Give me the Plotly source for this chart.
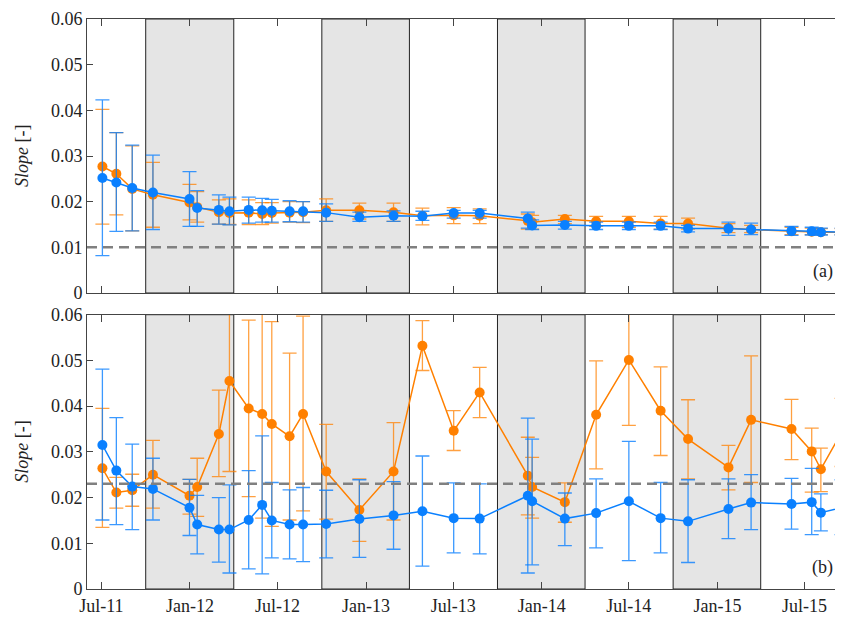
import plotly.graph_objects as go

dates = ["2011-07-03", "2011-08-01", "2011-09-03", "2011-10-16", "2011-12-31", "2012-01-16",
         "2012-03-01", "2012-03-23", "2012-05-02", "2012-05-30", "2012-06-19", "2012-07-26",
         "2012-08-23", "2012-10-10", "2012-12-18", "2013-02-27", "2013-04-28", "2013-07-02",
         "2013-08-25", "2013-12-03", "2013-12-12", "2014-02-18", "2014-04-24", "2014-07-01",
         "2014-09-05", "2014-11-01", "2015-01-24", "2015-03-12", "2015-06-04", "2015-07-16",
         "2015-08-04", "2015-09-16"]

# Panel (a)
a_orange = [0.0277, 0.0261, 0.0228, 0.0215, 0.0198, 0.0188, 0.0177, 0.0175, 0.0176, 0.0173, 0.0175, 0.0176,
            0.0177, 0.0181, 0.0181, 0.0177, 0.0169, 0.0170, 0.0169, 0.0158, 0.0155, 0.0162, 0.0157, 0.0157,
            0.0152, 0.0152, 0.0142, 0.0139, 0.0135, 0.0134, 0.0133, 0.0133]
a_orange_hi = [0.0402, 0.0351, 0.0322, 0.0286, 0.0238, 0.0222, 0.0204, 0.0206, 0.0204, 0.0198, 0.0198, 0.0200,
               0.0200, 0.0206, 0.0197, 0.0197, 0.0186, 0.0187, 0.0184, 0.0173, 0.0170, 0.0170, 0.0168, 0.0168,
               0.0168, 0.0164, 0.0152, 0.0148, 0.0144, 0.0142, 0.0141, 0.0141]
a_orange_lo = [0.0151, 0.0171, 0.0136, 0.0144, 0.0160, 0.0155, 0.0151, 0.0150, 0.0150, 0.0150, 0.0153, 0.0155,
               0.0154, 0.0157, 0.0162, 0.0157, 0.0149, 0.0152, 0.0152, 0.0140, 0.0140, 0.0152, 0.0146, 0.0144,
               0.0140, 0.0140, 0.0132, 0.0132, 0.0128, 0.0128, 0.0128, 0.0128]
a_blue = [0.0252, 0.0242, 0.0230, 0.0220, 0.0206, 0.0186, 0.0182, 0.0179, 0.0182, 0.0181, 0.0180, 0.0179,
          0.0179, 0.0176, 0.0166, 0.0169, 0.0168, 0.0175, 0.0175, 0.0163, 0.0148, 0.0149, 0.0147, 0.0147,
          0.0147, 0.0141, 0.0141, 0.0139, 0.0136, 0.0135, 0.0133, 0.0133]
a_blue_hi = [0.0423, 0.0351, 0.0324, 0.0302, 0.0266, 0.0224, 0.0215, 0.0210, 0.0210, 0.0207, 0.0205, 0.0202,
             0.0200, 0.0195, 0.0177, 0.0180, 0.0179, 0.0181, 0.0181, 0.0177, 0.0160, 0.0157, 0.0155, 0.0155,
             0.0155, 0.0148, 0.0155, 0.0153, 0.0146, 0.0144, 0.0142, 0.0142]
a_blue_lo = [0.0082, 0.0135, 0.0136, 0.0139, 0.0146, 0.0146, 0.0151, 0.0149, 0.0153, 0.0155, 0.0155, 0.0156,
             0.0155, 0.0157, 0.0157, 0.0157, 0.0159, 0.0164, 0.0164, 0.0142, 0.0139, 0.0140, 0.0139, 0.0139,
             0.0139, 0.0134, 0.0126, 0.0128, 0.0126, 0.0127, 0.0127, 0.0127]

# Panel (b)
b_orange = [0.0264, 0.0211, 0.0216, 0.0250, 0.0204, 0.0223, 0.0339, 0.0455, 0.0395, 0.0383, 0.0361, 0.0334,
            0.0383, 0.0257, 0.0173, 0.0257, 0.0532, 0.0346, 0.0430, 0.0248, 0.0223, 0.0190, 0.0381, 0.0501,
            0.0390, 0.0328, 0.0266, 0.0370, 0.0350, 0.0301, 0.0262, 0.0343]
b_orange_hi = [0.0395, 0.0244, 0.0251, 0.0325, 0.0240, 0.0286, 0.0435, 0.0650, 0.0588, 0.0650, 0.0585, 0.0516,
               0.0597, 0.0360, 0.0241, 0.0364, 0.0587, 0.0390, 0.0485, 0.0332, 0.0288, 0.0232, 0.0499, 0.0650,
               0.0486, 0.0414, 0.0314, 0.0510, 0.0415, 0.0352, 0.0308, 0.0417]
b_orange_lo = [0.0135, 0.0177, 0.0181, 0.0177, 0.0164, 0.0159, 0.0246, 0.0257, 0.0202, 0.0155, 0.0137, 0.0151,
               0.0171, 0.0153, 0.0104, 0.0151, 0.0478, 0.0303, 0.0375, 0.0162, 0.0155, 0.0146, 0.0263, 0.0358,
               0.0292, 0.0241, 0.0217, 0.0233, 0.0283, 0.0212, 0.0213, 0.0268]
b_blue = [0.0315, 0.0259, 0.0224, 0.0219, 0.0178, 0.0141, 0.0130, 0.0130, 0.0151, 0.0184, 0.0150, 0.0141,
          0.0141, 0.0142, 0.0153, 0.0161, 0.0170, 0.0155, 0.0154, 0.0204, 0.0192, 0.0154, 0.0166, 0.0192,
          0.0155, 0.0148, 0.0175, 0.0189, 0.0186, 0.0190, 0.0167, 0.0178]
b_blue_hi = [0.0481, 0.0375, 0.0317, 0.0286, 0.0240, 0.0205, 0.0200, 0.0228, 0.0259, 0.0335, 0.0233, 0.0217,
             0.0222, 0.0216, 0.0239, 0.0235, 0.0291, 0.0232, 0.0230, 0.0374, 0.0328, 0.0210, 0.0241, 0.0323,
             0.0233, 0.0239, 0.0241, 0.0250, 0.0242, 0.0264, 0.0208, 0.0239]
b_blue_lo = [0.0151, 0.0141, 0.0130, 0.0151, 0.0117, 0.0077, 0.0059, 0.0035, 0.0044, 0.0033, 0.0068, 0.0066,
             0.0060, 0.0068, 0.0069, 0.0087, 0.0050, 0.0079, 0.0077, 0.0035, 0.0053, 0.0095, 0.0090, 0.0062,
             0.0079, 0.0058, 0.0110, 0.0130, 0.0131, 0.0119, 0.0127, 0.0119]

thresholds = [0.010, 0.023]
winters = [("2011-10-01", "2012-04-01"), ("2012-10-01", "2013-04-01"),
           ("2013-10-01", "2014-04-01"), ("2014-10-01", "2015-04-01")]
tick_dates = ["2011-07-01", "2012-01-01", "2012-07-01", "2013-01-01", "2013-07-01",
              "2014-01-01", "2014-07-01", "2015-01-01", "2015-07-01"]
tick_text = ["Jul-11", "Jan-12", "Jul-12", "Jan-13", "Jul-13", "Jan-14", "Jul-14", "Jan-15", "Jul-15"]
y_ticks = [0, 0.01, 0.02, 0.03, 0.04, 0.05, 0.06]
y_text = ["0", "0.01", "0.02", "0.03", "0.04", "0.05", "0.06"]
panel_labels = ["(a)", "(b)"]

ORANGE = "#ff8000"
BLUE = "#0a80ff"
ORANGE_E = "rgba(255,128,0,0.75)"
BLUE_E = "rgba(10,128,255,0.8)"
FONT = "Times New Roman, Liberation Serif, serif"
TXT = "#222222"

fig = go.Figure()


def add_series(y, hi, lo, color, ecolor, xa, ya):
    fig.add_trace(go.Scatter(
        x=dates, y=y, mode="lines+markers", xaxis=xa, yaxis=ya,
        line=dict(color=color, width=1.5),
        marker=dict(color=color, size=10),
        error_y=dict(type="data", symmetric=False,
                     array=[h - v for h, v in zip(hi, y)],
                     arrayminus=[v - l for v, l in zip(y, lo)],
                     color=ecolor, thickness=1.3, width=7),
        showlegend=False, hoverinfo="skip"))


add_series(a_orange, a_orange_hi, a_orange_lo, ORANGE, ORANGE_E, "x", "y")
add_series(a_blue, a_blue_hi, a_blue_lo, BLUE, BLUE_E, "x", "y")
add_series(b_orange, b_orange_hi, b_orange_lo, ORANGE, ORANGE_E, "x2", "y2")
add_series(b_blue, b_blue_hi, b_blue_lo, BLUE, BLUE_E, "x2", "y2")

shapes = []
for xr, yr in [("x", "y"), ("x2", "y2")]:
    for s, e in winters:
        shapes.append(dict(type="rect", xref=xr, yref=yr + " domain", x0=s, x1=e, y0=0, y1=1,
                           fillcolor="#e5e5e5", line=dict(color="#222222", width=1), layer="below"))
for (xr, yr), t in zip([("x", "y"), ("x2", "y2")], thresholds):
    shapes.append(dict(type="line", xref=xr + " domain", yref=yr, x0=0, x1=1, y0=t, y1=t,
                       line=dict(color="#808080", width=2.5, dash="10px,6px"), layer="above"))

annotations = []
for yr, lab in zip(["y", "y2"], panel_labels):
    annotations.append(dict(text=lab, xref="paper", yref=yr + " domain", x=0.99, y=0.08,
                            showarrow=False, xanchor="right", yanchor="middle",
                            font=dict(family=FONT, size=18, color=TXT)))
    annotations.append(dict(text="<i>Slope</i> [-]", xref="paper", yref=yr + " domain", x=-0.086, y=0.5,
                            showarrow=False, textangle=-90, xanchor="center", yanchor="middle",
                            font=dict(family=FONT, size=18, color=TXT)))

xcommon = dict(type="date", range=["2011-06-01", "2015-09-19"], tickmode="array",
               tickvals=tick_dates, ticks="inside", ticklen=7, tickcolor="#444",
               showline=True, linecolor="#444", linewidth=1, mirror="ticks",
               showgrid=False, zeroline=False, automargin=False,
               tickfont=dict(family=FONT, size=18, color=TXT))
ycommon = dict(range=[0, 0.06], tickmode="array", tickvals=y_ticks, ticktext=y_text,
               ticks="inside", ticklen=6, tickcolor="#444", showline=True, linecolor="#444",
               linewidth=1, showgrid=False, zeroline=False, automargin=False,
               tickfont=dict(family=FONT, size=18, color=TXT))

# page body has an 8px margin, so the figure is 8px smaller and margins shifted
fig.update_layout(
    width=835, height=609,
    margin=dict(l=79, r=0, t=11, b=28, autoexpand=False),
    plot_bgcolor="white", paper_bgcolor="white",
    font=dict(family=FONT, color=TXT),
    xaxis=dict(**xcommon, anchor="y", ticktext=[""] * len(tick_dates), showticklabels=False),
    yaxis=dict(**ycommon, domain=[0.5193, 1.0], anchor="x"),
    xaxis2=dict(**xcommon, anchor="y2", ticktext=tick_text, matches="x"),
    yaxis2=dict(**ycommon, domain=[0.0, 0.4812], anchor="x2"),
    shapes=shapes, annotations=annotations,
)

fig.write_html("out.html")
